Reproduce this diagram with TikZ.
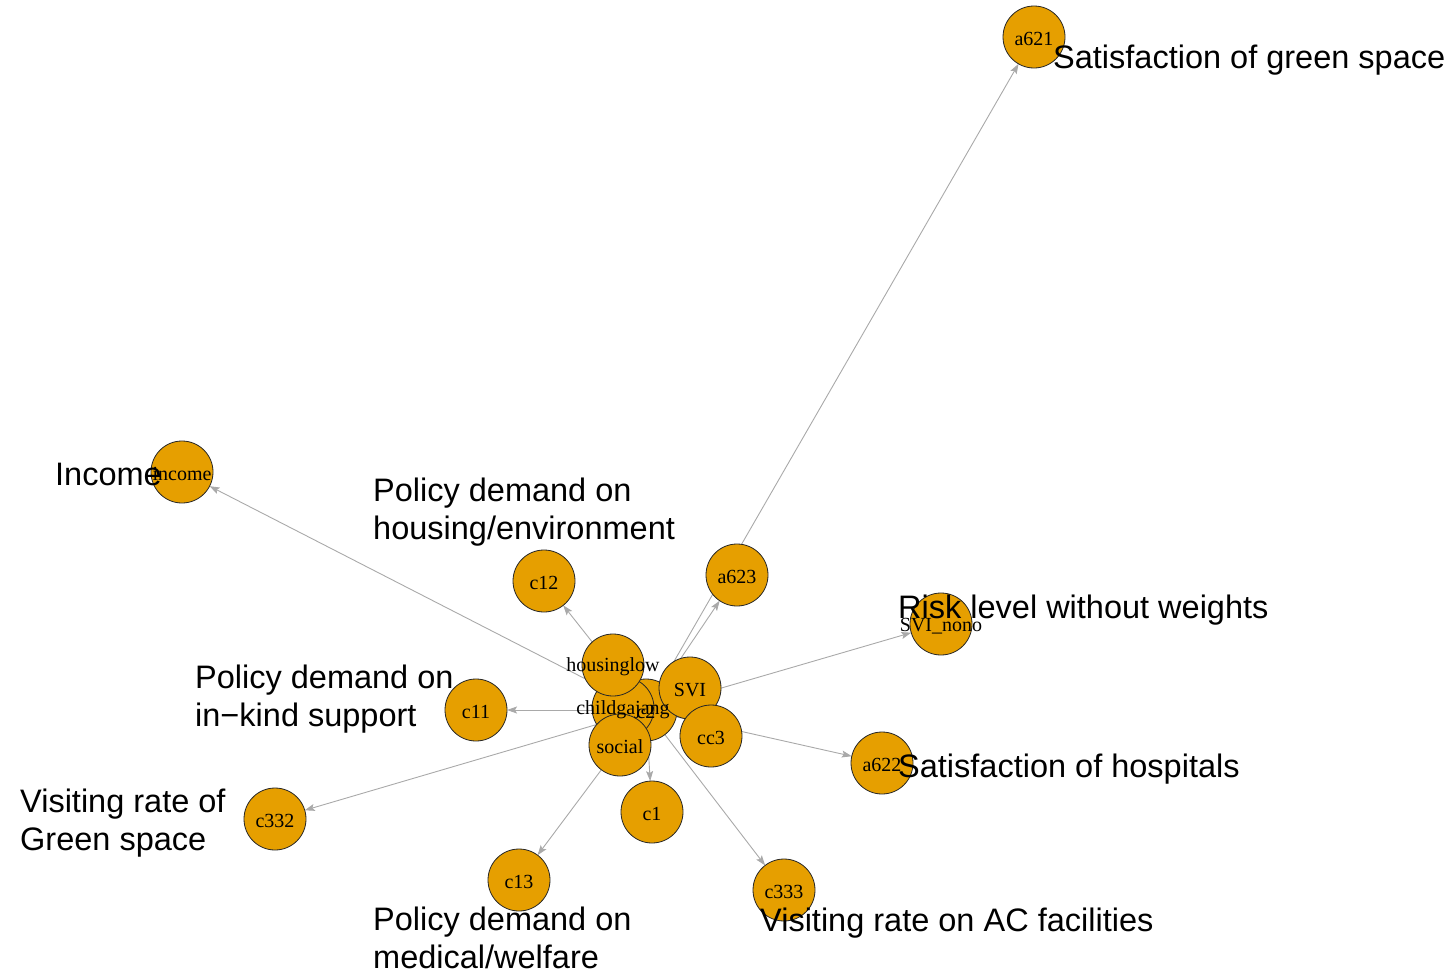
\documentclass[tikz,border=0pt]{standalone}
\usepackage{fontspec}
\setmainfont{Liberation Serif}
\setsansfont{Liberation Sans}
\usetikzlibrary{arrows.meta}
\definecolor{vfill}{HTML}{E69F00}
\definecolor{egray}{HTML}{A9A9A9}
\pgfdeclarelayer{edges}
\pgfsetlayers{edges,main}
\tikzset{
 vert/.style={circle,fill=vfill,draw=black!85,line width=0.8pt,minimum size=62pt,inner sep=0pt,outer sep=0pt},
 vlab/.style={font=\fontsize{20}{24}\selectfont,text=black,inner sep=0pt,yshift=-2pt},
 outlab/.style={font=\sffamily\fontsize{32.5}{38}\selectfont,anchor=west,align=left,inner sep=0pt,yshift=-3pt},
 edgeline/.style={draw=egray,line width=0.9pt,-{Stealth[length=10pt,width=7pt,inset=2pt]}}
}
\begin{document}
\begin{tikzpicture}[x=1pt,y=-1pt]
\useasboundingbox (0,0) rectangle (1450,972);
% vertices (circles)
\node[vert] (a621) at (1034,37) {};
\node[vert] (income) at (182,472) {};
\node[vert] (c12) at (544,581) {};
\node[vert] (a623) at (737,575) {};
\node[vert] (svinono) at (941,624) {};
\node[vert] (c11) at (476,710) {};
\node[vert] (a622) at (882,763) {};
\node[vert] (c332) at (275,819) {};
\node[vert] (c1) at (652,812) {};
\node[vert] (c13) at (519,880) {};
\node[vert] (c333) at (784,890) {};
\node[vert] (c2) at (646,710) {};
\node[vert] (childgajang) at (623,708) {};
\node[vert] (housinglow) at (613,665) {};
\node[vert] (social) at (620,745) {};
\node[vert] (svi) at (690,688) {};
\node[vert] (cc3) at (711,736) {};
% edges
\begin{pgfonlayer}{edges}
\foreach \t in {a621,income,c12,a623,svinono,c11,a622,c332,c1,c13,c333}
  \draw[edgeline] (c2.center) -- (\t);
\end{pgfonlayer}
% vertex labels
\node[vlab] (la621) at (a621) {a621};
\node[vlab] (lincome) at (income) {income};
\node[vlab] (lc12) at (c12) {c12};
\node[vlab] (la623) at (a623) {a623};
\node[vlab] (lsvinono) at (svinono) {SVI\_nono};
\node[vlab] (lc11) at (c11) {c11};
\node[vlab] (la622) at (a622) {a622};
\node[vlab] (lc332) at (c332) {c332};
\node[vlab] (lc1) at (c1) {c1};
\node[vlab] (lc13) at (c13) {c13};
\node[vlab] (lc333) at (c333) {c333};
\node[vlab] (lc2) at (c2) {c2};
\node[vlab] (lchildgajang) at (childgajang) {childgajang};
\node[vlab] (lhousinglow) at (housinglow) {housinglow};
\node[vlab] (lsocial) at (social) {social};
\node[vlab] (lsvi) at (svi) {SVI};
\node[vlab] (lcc3) at (cc3) {cc3};
% outer labels
\node[outlab] (t1) at (1053,57) {Satisfaction of green space};
\node[outlab] (t2) at (55,471) {Income};
\node[outlab] (t3) at (373,509) {Policy demand on\\housing/environment};
\node[outlab] (t4) at (898,607) {Risk level without weights};
\node[outlab] (t5) at (195,696) {Policy demand on\\in−kind support};
\node[outlab] (t6) at (898,766) {Satisfaction of hospitals};
\node[outlab] (t7) at (20,820) {Visiting rate of\\Green space};
\node[outlab] (t8) at (373,935) {Policy demand on\\medical/welfare};
\node[outlab] (t9) at (760,920) {Visiting rate on AC facilities};
\end{tikzpicture}
\end{document}
